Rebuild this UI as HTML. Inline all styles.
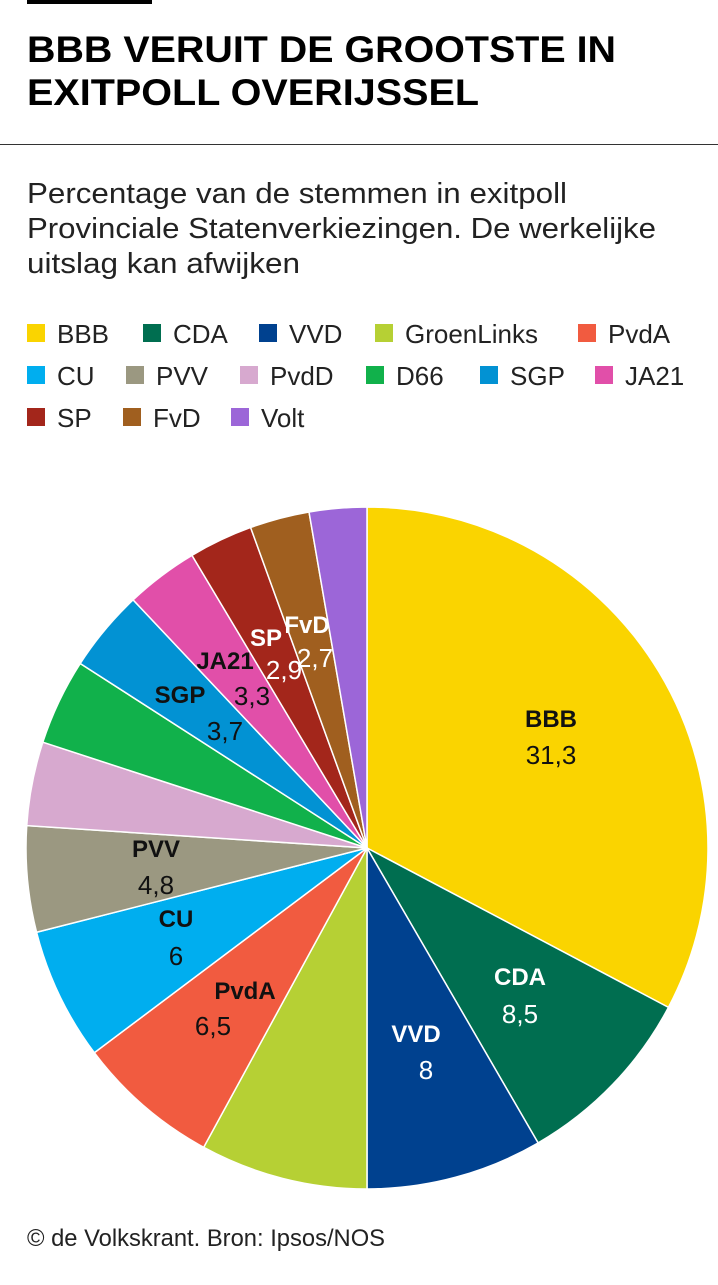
<!DOCTYPE html>
<html><head><meta charset="utf-8"><style>
body{margin:0;background:#fff;width:718px;height:1280px;overflow:hidden;font-family:"Liberation Sans",sans-serif}
</style></head><body>
<svg id="s" width="718" height="1280" xmlns="http://www.w3.org/2000/svg">
<rect x="27" y="0" width="125" height="4" fill="#000"/>
<g font-family="'Liberation Sans',sans-serif" font-weight="bold" font-size="37" fill="#000">
<text x="27" y="62" textLength="589" lengthAdjust="spacingAndGlyphs">BBB VERUIT DE GROOTSTE IN</text>
<text x="27" y="105" textLength="452" lengthAdjust="spacingAndGlyphs">EXITPOLL OVERIJSSEL</text>
</g>
<rect x="0" y="144" width="718" height="1" fill="#333"/>
<g font-family="'Liberation Sans',sans-serif" font-size="29" fill="#222">
<text x="27" y="203" textLength="540" lengthAdjust="spacingAndGlyphs">Percentage van de stemmen in exitpoll</text>
<text x="27" y="238" textLength="629" lengthAdjust="spacingAndGlyphs">Provinciale Statenverkiezingen. De werkelijke</text>
<text x="27" y="273" textLength="273" lengthAdjust="spacingAndGlyphs">uitslag kan afwijken</text>
</g>
<g id="leg" font-family="'Liberation Sans',sans-serif" font-size="26" fill="#222"></g>
<g id="pie"></g>
<g id="lab" font-family="'Liberation Sans',sans-serif" text-anchor="middle" font-size="24"></g>
<text x="27" y="1246" font-family="'Liberation Sans',sans-serif" font-size="24" fill="#222" textLength="358" lengthAdjust="spacingAndGlyphs">© de Volkskrant. Bron: Ipsos/NOS</text>
</svg>
<script>
var NS="http://www.w3.org/2000/svg";
function el(t,a,p,txt){var e=document.createElementNS(NS,t);for(var k in a)e.setAttribute(k,a[k]);if(txt)e.textContent=txt;p.appendChild(e);return e;}
var d=[["BBB",31.3,"#fad400"],["CDA",8.5,"#006e50"],["VVD",8,"#00418f"],["GroenLinks",7.6,"#b6d034"],["PvdA",6.5,"#f15b40"],["CU",6,"#00aeef"],["PVV",4.8,"#9b9881"],["PvdD",3.8,"#d7a9cf"],["D66",3.9,"#11b14b"],["SGP",3.7,"#0292d3"],["JA21",3.3,"#e14fa9"],["SP",2.9,"#a3261b"],["FvD",2.7,"#a05f1f"],["Volt",2.6,"#9c66d8"]];
var tot=0;d.forEach(function(x){tot+=x[1]});
var cx=367,cy=848,r=341,a=0,pie=document.getElementById("pie");
d.forEach(function(x){var a2=a+x[1]/tot*2*Math.PI;
var x1=cx+r*Math.sin(a),y1=cy-r*Math.cos(a),x2=cx+r*Math.sin(a2),y2=cy-r*Math.cos(a2);
el("path",{d:"M"+cx+","+cy+"L"+x1+","+y1+"A"+r+","+r+" 0 "+((a2-a)>Math.PI?1:0)+" 1 "+x2+","+y2+"Z",fill:x[2],stroke:"#fff","stroke-width":1.5},pie);a=a2;});
var leg=document.getElementById("leg");
var L=[["BBB",27,333],["CDA",143,333],["VVD",259,333],["GroenLinks",375,333],["PvdA",578,333],["CU",27,375],["PVV",126,375],["PvdD",240,375],["D66",366,375],["SGP",480,375],["JA21",595,375],["SP",27,417],["FvD",123,417],["Volt",231,417]];
var col={};d.forEach(function(x){col[x[0]]=x[2]});
L.forEach(function(l){el("rect",{x:l[1],y:l[2]-9,width:18,height:18,fill:col[l[0]]},leg);el("text",{x:l[1]+30,y:l[2]+10},leg,l[0]);});
var lab=document.getElementById("lab");
var T=[["BBB","31,3",551,718,551,755,"#111"],["CDA","8,5",520,976,520,1014,"#fff"],["VVD","8",416,1033,426,1070,"#fff"],["PvdA","6,5",245,990,213,1026,"#111"],["CU","6",176,918,176,956,"#111"],["PVV","4,8",156,848,156,885,"#111"],["SGP","3,7",180,694,225,731,"#111"],["JA21","3,3",225,660,252,696,"#111"],["SP","2,9",266,637,284,670,"#fff"],["FvD","2,7",307,624,315,658,"#fff"]];
T.forEach(function(t){el("text",{x:t[2],y:t[3]+9,"font-weight":"bold",fill:t[6]},lab,t[0]);el("text",{x:t[4],y:t[5]+9,fill:t[6],"font-size":"26"},lab,t[1]);});
</script>
</body></html>
